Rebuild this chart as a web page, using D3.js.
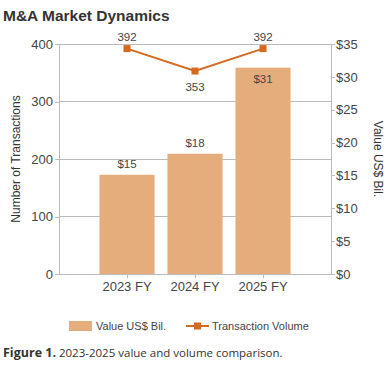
<!DOCTYPE html>
<html><head><meta charset="utf-8">
<script src="https://cdn.jsdelivr.net/npm/d3@7/dist/d3.min.js"></script>
<style>body{margin:0;background:#fff}svg{display:block}</style>
</head><body><svg id="c" width="390" height="380"></svg>
<script>
const categories = ["2023 FY", "2024 FY", "2025 FY"];
const values = [15.1, 18.3, 31.4];
const volumes = [392, 353, 392];
const leftTicks = [0, 100, 200, 300, 400];
const rightTicks = [0, 5, 10, 15, 20, 25, 30, 35];

const svg = d3.select("#c");
const font = "'Liberation Sans', Arial, sans-serif";
const m = {l: 59, r: 331, t: 44, b: 274};
const barColor = "#e6ad7c", lineColor = "#d4691f", axisColor = "#bbbbbb", textColor = "#444";

const x = d3.scaleBand().domain(categories).range([m.l, m.r]).paddingInner(0.19).paddingOuter(0.595);
const yL = d3.scaleLinear().domain([0, 400]).range([m.b, m.t]);
const yR = d3.scaleLinear().domain([0, 35]).range([m.b, m.t]);

svg.append("text").attr("x", 3).attr("y", 21).text("M&A Market Dynamics")
  .attr("font-family", font).attr("font-weight", "bold").attr("font-size", 15.5).attr("fill", "#333");

// gridlines
svg.append("g").selectAll("line").data(leftTicks.filter(d => d > 0)).join("line")
  .attr("x1", m.l).attr("x2", m.r).attr("y1", d => yL(d)).attr("y2", d => yL(d))
  .attr("stroke", axisColor).attr("stroke-width", 1).attr("shape-rendering", "crispEdges");

function styleAxis(g) {
  g.selectAll("path,line").attr("stroke", axisColor).attr("shape-rendering", "crispEdges");
  g.selectAll("text").attr("fill", textColor).attr("font-family", font).attr("font-size", 13);
}

// bars
svg.append("g").selectAll("rect").data(values).join("rect")
  .attr("x", (d, i) => x(categories[i])).attr("width", x.bandwidth())
  .attr("y", d => yR(d)).attr("height", d => m.b - yR(d)).attr("fill", barColor);

// bar labels
svg.append("g").selectAll("text").data(values).join("text")
  .attr("x", (d, i) => x(categories[i]) + x.bandwidth() / 2)
  .attr("y", (d, i) => i === 2 ? yR(d) + 15 : yR(d) - 7)
  .attr("text-anchor", "middle").attr("font-family", font).attr("font-size", 11.5).attr("fill", textColor)
  .text(d => d3.format("$.0f")(d));

// axes
svg.append("g").attr("transform", `translate(${m.l},0)`)
  .call(d3.axisLeft(yL).tickValues(leftTicks).tickSize(4).tickPadding(2).tickSizeOuter(0)).call(styleAxis);
svg.append("g").attr("transform", `translate(${m.r},0)`)
  .call(d3.axisRight(yR).tickValues(rightTicks).tickSize(4).tickPadding(1).tickFormat(d => "$" + d).tickSizeOuter(0)).call(styleAxis);
svg.append("g").attr("transform", `translate(0,${m.b})`)
  .call(d3.axisBottom(x).tickSize(4).tickPadding(4).tickSizeOuter(0)).call(styleAxis);

// line
const cx = (d, i) => x(categories[i]) + x.bandwidth() / 2;
svg.append("path").datum(volumes)
  .attr("d", d3.line().x(cx).y(d => yL(d)))
  .attr("fill", "none").attr("stroke", lineColor).attr("stroke-width", 2);
svg.append("g").selectAll("rect").data(volumes).join("rect")
  .attr("x", (d, i) => cx(d, i) - 3.5).attr("y", d => yL(d) - 3.5)
  .attr("width", 7).attr("height", 7).attr("fill", lineColor);
svg.append("g").selectAll("text").data(volumes).join("text")
  .attr("x", cx).attr("y", (d, i) => i === 1 ? yL(d) + 20 : yL(d) - 8)
  .attr("text-anchor", "middle").attr("font-family", font).attr("font-size", 11.5).attr("fill", textColor)
  .text(d => d);

// axis titles
svg.append("text").attr("transform", `translate(20,${(m.t + m.b) / 2}) rotate(-90)`)
  .attr("text-anchor", "middle").attr("font-family", font).attr("font-size", 12).attr("fill", "#333")
  .text("Number of Transactions");
svg.append("text").attr("transform", `translate(374,${(m.t + m.b) / 2}) rotate(90)`)
  .attr("text-anchor", "middle").attr("font-family", font).attr("font-size", 12).attr("fill", "#333")
  .text("Value US$ Bil.");

// legend
const lg = svg.append("g").attr("font-family", font).attr("font-size", 11).attr("fill", textColor);
lg.append("rect").attr("x", 69).attr("y", 321).attr("width", 23).attr("height", 10).attr("fill", barColor);
lg.append("text").attr("x", 96).attr("y", 330).text("Value US$ Bil.");
lg.append("line").attr("x1", 186).attr("x2", 209).attr("y1", 326).attr("y2", 326).attr("stroke", lineColor).attr("stroke-width", 2);
lg.append("rect").attr("x", 194).attr("y", 322.5).attr("width", 7).attr("height", 7).attr("fill", lineColor);
lg.append("text").attr("x", 212).attr("y", 330).text("Transaction Volume");

// caption
const cap = svg.append("text").attr("x", 3).attr("y", 357).attr("font-family", "'Open Sans', sans-serif").attr("font-size", 11.5).attr("fill", "#333");
cap.append("tspan").attr("font-weight", "bold").attr("font-size", 12.5).text("Figure 1.");
cap.append("tspan").text(" 2023-2025 value and volume comparison.");
</script></body></html>
